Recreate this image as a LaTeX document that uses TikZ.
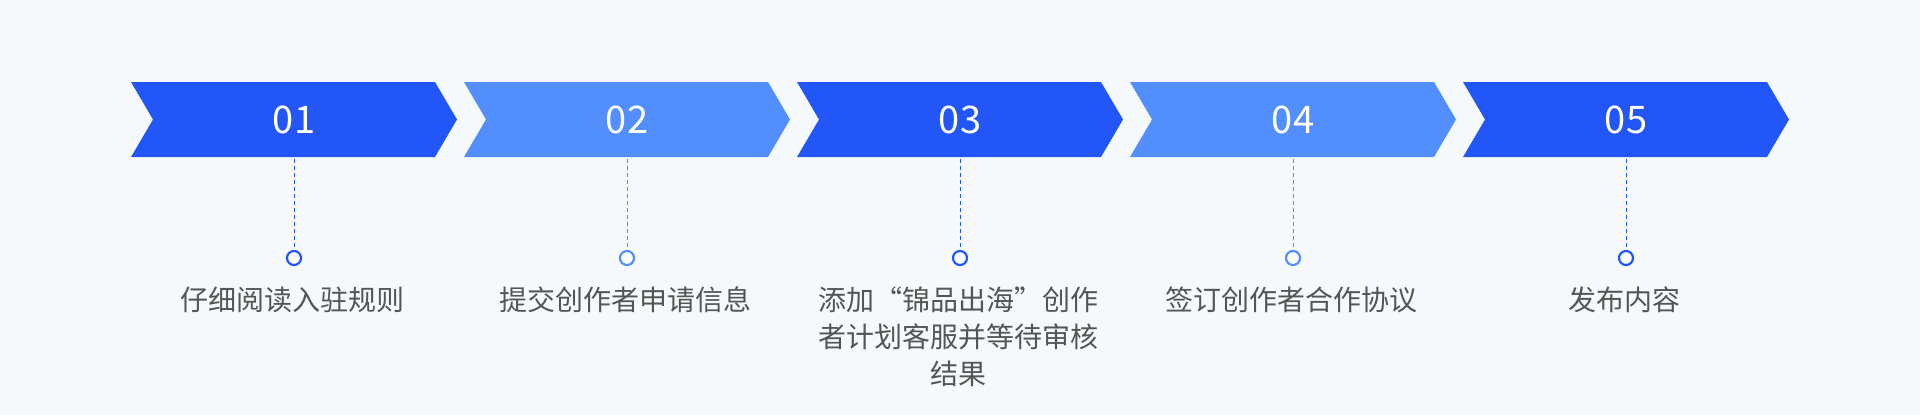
\documentclass[tikz,border=0pt]{standalone}
\usepackage{fontspec}
\setmainfont{Noto Sans CJK SC}
\definecolor{bg}{HTML}{F5F9FB}
\definecolor{dkb}{HTML}{2356F6}
\definecolor{ltb}{HTML}{528FFD}
\definecolor{txt}{HTML}{555555}
\begin{document}
\begin{tikzpicture}[x=1pt,y=-1pt,
  numtxt/.style={text=white,font=\fontsize{38}{42}\selectfont},
  lbl/.style={text=txt,font=\fontsize{28}{37}\selectfont,align=center,anchor=north},
  dot/.style={circle,draw=#1,line width=2.2pt,fill=white,minimum size=14pt,inner sep=0pt},
  conn/.style={draw=#1,dashed,line width=1pt,dash pattern=on 4pt off 3pt}]
\fill[bg] (0,0) rectangle (1920,415);
\useasboundingbox (0,0) rectangle (1920,415);
\foreach \i/\c/\t in {0/dkb/01,1/ltb/02,2/dkb/03,3/ltb/04,4/dkb/05}{
  \pgfmathsetmacro{\xa}{131+333*\i}
  \fill[\c] (\xa,82) -- (\xa+304,82) -- (\xa+326,119.5) -- (\xa+304,157) -- (\xa,157) -- (\xa+22,119.5) -- cycle;
  \node[numtxt] (n\i) at (\xa+163,119.5) {\t};
  \coordinate (s\i) at (\xa+163,159);
  \node[dot=\c] (d\i) at (\xa+163,258) {};
  \draw[conn=\c] (s\i) -- (d\i.north);
}
\node[lbl] (l0) at (292,283) {仔细阅读入驻规则};
\node[lbl] (l1) at (625,283) {提交创作者申请信息};
\node[lbl] (l2) at (958,283) {添加“锦品出海”创作\\者计划客服并等待审核\\结果};
\node[lbl] (l3) at (1291,283) {签订创作者合作协议};
\node[lbl] (l4) at (1624,283) {发布内容};
\end{tikzpicture}
\end{document}
